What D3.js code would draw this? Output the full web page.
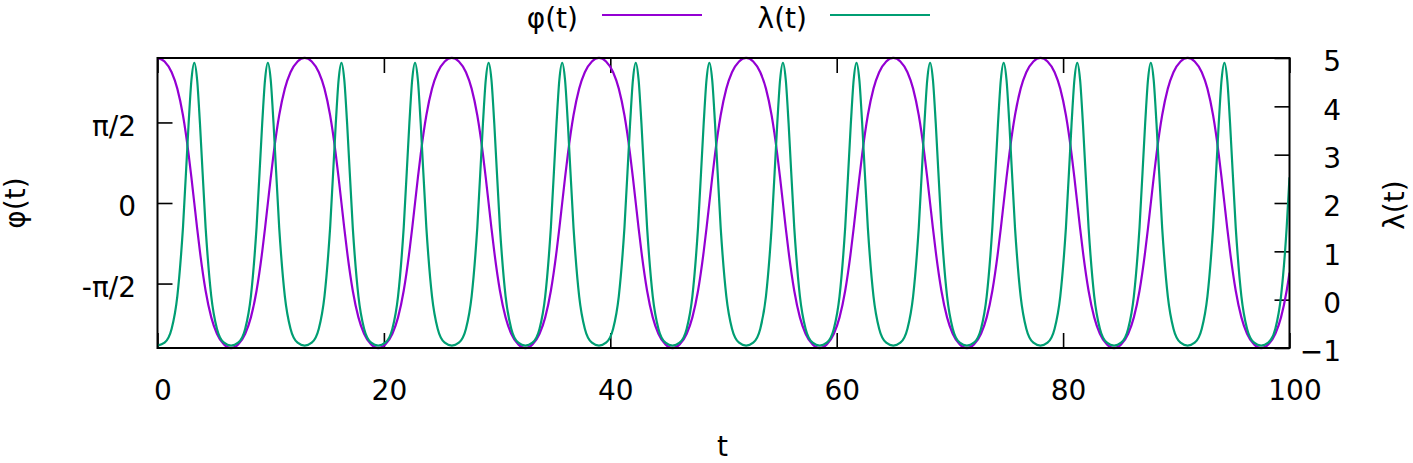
<!DOCTYPE html>
<html><head><meta charset="utf-8">
<script src="https://cdn.jsdelivr.net/npm/d3@7"></script>
<style>
body{margin:0;background:#fff}
svg{display:block}
text{font-family:"DejaVu Sans",sans-serif;fill:#000}
</style>
</head><body><svg id="c" width="1413" height="463"></svg>
<script>
// ---- data ----
const seriesNames = ["φ(t)", "λ(t)"];
const tValues = [
0,0.625,1.25,1.75,2.25,2.75,3,3.25,3.5,3.75,4.25,4.75,5.25,5.875,
6.5,7.125,7.75,8.25,8.75,9.25,9.5,9.75,10,10.25,10.75,11.25,11.75,12.375,
13,13.625,14.25,14.75,15.25,15.75,16,16.25,16.5,16.75,17.25,17.75,18.25,18.875,
19.5,20.125,20.75,21.25,21.75,22.25,22.5,22.75,23,23.25,23.75,24.25,24.75,25.375,
26,26.625,27.25,27.75,28.25,28.75,29,29.25,29.5,29.75,30.25,30.75,31.25,31.875,
32.5,33.125,33.75,34.25,34.75,35.25,35.5,35.75,36,36.25,36.75,37.25,37.75,38.375,
39,39.625,40.25,40.75,41.25,41.75,42,42.25,42.5,42.75,43.25,43.75,44.25,44.875,
45.5,46.125,46.75,47.25,47.75,48.25,48.5,48.75,49,49.25,49.75,50.25,50.75,51.375,
52,52.625,53.25,53.75,54.25,54.75,55,55.25,55.5,55.75,56.25,56.75,57.25,57.875,
58.5,59.125,59.75,60.25,60.75,61.25,61.5,61.75,62,62.25,62.75,63.25,63.75,64.375,
65,65.625,66.25,66.75,67.25,67.75,68,68.25,68.5,68.75,69.25,69.75,70.25,70.875,
71.5,72.125,72.75,73.25,73.75,74.25,74.5,74.75,75,75.25,75.75,76.25,76.75,77.375,
78,78.625,79.25,79.75,80.25,80.75,81,81.25,81.5,81.75,82.25,82.75,83.25,83.875,
84.5,85.125,85.75,86.25,86.75,87.25,87.5,87.75,88,88.25,88.75,89.25,89.75,90.375,
91,91.625,92.25,92.75,93.25,93.75,94,94.25,94.5,94.75,95.25,95.75,96.25,96.875,
97.5,98.125,98.75,99.25,99.75,100];
const phiValues = [
2.83,2.76,2.55,2.23,1.71,0.95,0.49,0,-0.49,-0.95,-1.71,-2.23,-2.55,-2.76,
-2.83,-2.76,-2.55,-2.23,-1.71,-0.95,-0.49,0,0.49,0.95,1.71,2.23,2.55,2.76,
2.83,2.76,2.55,2.23,1.71,0.95,0.49,0,-0.49,-0.95,-1.71,-2.23,-2.55,-2.76,
-2.83,-2.76,-2.55,-2.23,-1.71,-0.95,-0.49,0,0.49,0.95,1.71,2.23,2.55,2.76,
2.83,2.76,2.55,2.23,1.71,0.95,0.49,0,-0.49,-0.95,-1.71,-2.23,-2.55,-2.76,
-2.83,-2.76,-2.55,-2.23,-1.71,-0.95,-0.49,0,0.49,0.95,1.71,2.23,2.55,2.76,
2.83,2.76,2.55,2.23,1.71,0.95,0.49,0,-0.49,-0.95,-1.71,-2.23,-2.55,-2.76,
-2.83,-2.76,-2.55,-2.23,-1.71,-0.95,-0.49,0,0.49,0.95,1.71,2.23,2.55,2.76,
2.83,2.76,2.55,2.23,1.71,0.95,0.49,0,-0.49,-0.95,-1.71,-2.23,-2.55,-2.76,
-2.83,-2.76,-2.55,-2.23,-1.71,-0.95,-0.49,0,0.49,0.95,1.71,2.23,2.55,2.76,
2.83,2.76,2.55,2.23,1.71,0.95,0.49,0,-0.49,-0.95,-1.71,-2.23,-2.55,-2.76,
-2.83,-2.76,-2.55,-2.23,-1.71,-0.95,-0.49,0,0.49,0.95,1.71,2.23,2.55,2.76,
2.83,2.76,2.55,2.23,1.71,0.95,0.49,0,-0.49,-0.95,-1.71,-2.23,-2.55,-2.76,
-2.83,-2.76,-2.55,-2.23,-1.71,-0.95,-0.49,0,0.49,0.95,1.71,2.23,2.55,2.76,
2.83,2.76,2.55,2.23,1.71,0.95,0.49,0,-0.49,-0.95,-1.71,-2.23,-2.55,-2.76,
-2.83,-2.76,-2.55,-2.23,-1.71,-1.36];
const lambdaValues = [
-0.95,-0.89,-0.60,0.07,1.49,3.65,4.55,4.90,4.55,3.65,1.49,0.07,-0.60,-0.89,
-0.95,-0.89,-0.60,0.07,1.49,3.65,4.55,4.90,4.55,3.65,1.49,0.07,-0.60,-0.89,
-0.95,-0.89,-0.60,0.07,1.49,3.65,4.55,4.90,4.55,3.65,1.49,0.07,-0.60,-0.89,
-0.95,-0.89,-0.60,0.07,1.49,3.65,4.55,4.90,4.55,3.65,1.49,0.07,-0.60,-0.89,
-0.95,-0.89,-0.60,0.07,1.49,3.65,4.55,4.90,4.55,3.65,1.49,0.07,-0.60,-0.89,
-0.95,-0.89,-0.60,0.07,1.49,3.65,4.55,4.90,4.55,3.65,1.49,0.07,-0.60,-0.89,
-0.95,-0.89,-0.60,0.07,1.49,3.65,4.55,4.90,4.55,3.65,1.49,0.07,-0.60,-0.89,
-0.95,-0.89,-0.60,0.07,1.49,3.65,4.55,4.90,4.55,3.65,1.49,0.07,-0.60,-0.89,
-0.95,-0.89,-0.60,0.07,1.49,3.65,4.55,4.90,4.55,3.65,1.49,0.07,-0.60,-0.89,
-0.95,-0.89,-0.60,0.07,1.49,3.65,4.55,4.90,4.55,3.65,1.49,0.07,-0.60,-0.89,
-0.95,-0.89,-0.60,0.07,1.49,3.65,4.55,4.90,4.55,3.65,1.49,0.07,-0.60,-0.89,
-0.95,-0.89,-0.60,0.07,1.49,3.65,4.55,4.90,4.55,3.65,1.49,0.07,-0.60,-0.89,
-0.95,-0.89,-0.60,0.07,1.49,3.65,4.55,4.90,4.55,3.65,1.49,0.07,-0.60,-0.89,
-0.95,-0.89,-0.60,0.07,1.49,3.65,4.55,4.90,4.55,3.65,1.49,0.07,-0.60,-0.89,
-0.95,-0.89,-0.60,0.07,1.49,3.65,4.55,4.90,4.55,3.65,1.49,0.07,-0.60,-0.89,
-0.95,-0.89,-0.60,0.07,1.49,2.53];
const xTicks = [0, 20, 40, 60, 80, 100];
const yLeftTicks = [-Math.PI / 2, 0, Math.PI / 2];
const yLeftTickLabels = ["-π/2", "0", "π/2"];
const yRightTicks = [-1, 0, 1, 2, 3, 4, 5];

// ---- layout ----
const FS = 28;
const frame = {left: 157.5, right: 1289.5, top: 58, bottom: 348};
const colors = ["#9400d3", "#009e73"];

const svg = d3.select("#c");
const x = d3.scaleLinear().domain([0, 100]).range([frame.left, frame.right]);
const yL = d3.scaleLinear().domain([-0.9 * Math.PI, 0.9 * Math.PI]).range([frame.bottom, frame.top]);
const yR = d3.scaleLinear().domain([-1, 5]).range([frame.bottom, frame.top]);

svg.append("defs").append("clipPath").attr("id", "clip")
  .append("rect").attr("x", frame.left).attr("y", frame.top - 2)
  .attr("width", frame.right - frame.left).attr("height", frame.bottom - frame.top + 4);

function styleAxis(g) {
  g.select(".domain").remove();
  g.selectAll(".tick line").attr("stroke", "#000").attr("stroke-width", 1.6);
  g.selectAll(".tick text").attr("font-size", FS).attr("font-family", "DejaVu Sans").attr("fill", "#000");
}

// bottom axis
svg.append("g").attr("transform", `translate(0,${frame.bottom})`)
  .call(d3.axisBottom(x).tickValues(xTicks).tickSize(-15).tickPadding(32).tickFormat(d3.format("d")))
  .call(styleAxis)
  .call(g => g.selectAll(".tick text").attr("dx", 5));
// top mirror ticks
svg.append("g").attr("transform", `translate(0,${frame.top})`)
  .call(d3.axisTop(x).tickValues(xTicks).tickSize(-15).tickFormat(""))
  .call(styleAxis);
// left axis
svg.append("g").attr("transform", `translate(${frame.left},0)`)
  .call(d3.axisLeft(yL).tickValues(yLeftTicks).tickSize(-15).tickPadding(21.5)
    .tickFormat((d, i) => yLeftTickLabels[i]))
  .call(styleAxis)
  .call(g => g.selectAll(".tick text").attr("dy", "0.46em"));
// right axis
svg.append("g").attr("transform", `translate(${frame.right},0)`)
  .call(d3.axisRight(yR).tickValues(yRightTicks).tickSize(-15).tickPadding(51.5).tickFormat(d3.format("d")))
  .call(styleAxis)
  .call(g => g.selectAll(".tick text").attr("text-anchor", "end").attr("dy", "0.46em"));

// curves
const plot = svg.append("g").attr("clip-path", "url(#clip)");
const seriesData = [
  tValues.map((t, i) => [t, phiValues[i]]),
  tValues.map((t, i) => [t, lambdaValues[i]])
];
const yScales = [yL, yR];
seriesData.forEach((data, k) => {
  const line = d3.line().x(d => x(d[0])).y(d => yScales[k](d[1])).curve(d3.curveMonotoneX);
  plot.append("path").datum(data).attr("d", line)
    .attr("fill", "none").attr("stroke", colors[k]).attr("stroke-width", 2.2)
    .attr("stroke-linejoin", "round");
});

// frame
svg.append("rect").attr("x", frame.left).attr("y", frame.top)
  .attr("width", frame.right - frame.left).attr("height", frame.bottom - frame.top)
  .attr("fill", "none").attr("stroke", "#000").attr("stroke-width", 2);

// axis labels
svg.append("text").attr("x", 722.5).attr("y", 456).attr("text-anchor", "middle").attr("font-size", FS).text("t");
svg.append("text").attr("transform", "translate(25,203) rotate(-90)").attr("text-anchor", "middle").attr("font-size", FS).text("φ(t)");
svg.append("text").attr("transform", "translate(1404,205) rotate(-90)").attr("text-anchor", "middle").attr("font-size", FS).text("λ(t)");

// legend
const legendTextX = [578, 807];
const legendLineX = [[602, 702], [830, 930]];
seriesNames.forEach((name, k) => {
  svg.append("text").attr("x", legendTextX[k]).attr("y", 28).attr("text-anchor", "end").attr("font-size", FS).text(name);
  svg.append("line").attr("x1", legendLineX[k][0]).attr("x2", legendLineX[k][1]).attr("y1", 15).attr("y2", 15)
    .attr("stroke", colors[k]).attr("stroke-width", 2.2);
});
</script>
</body></html>
